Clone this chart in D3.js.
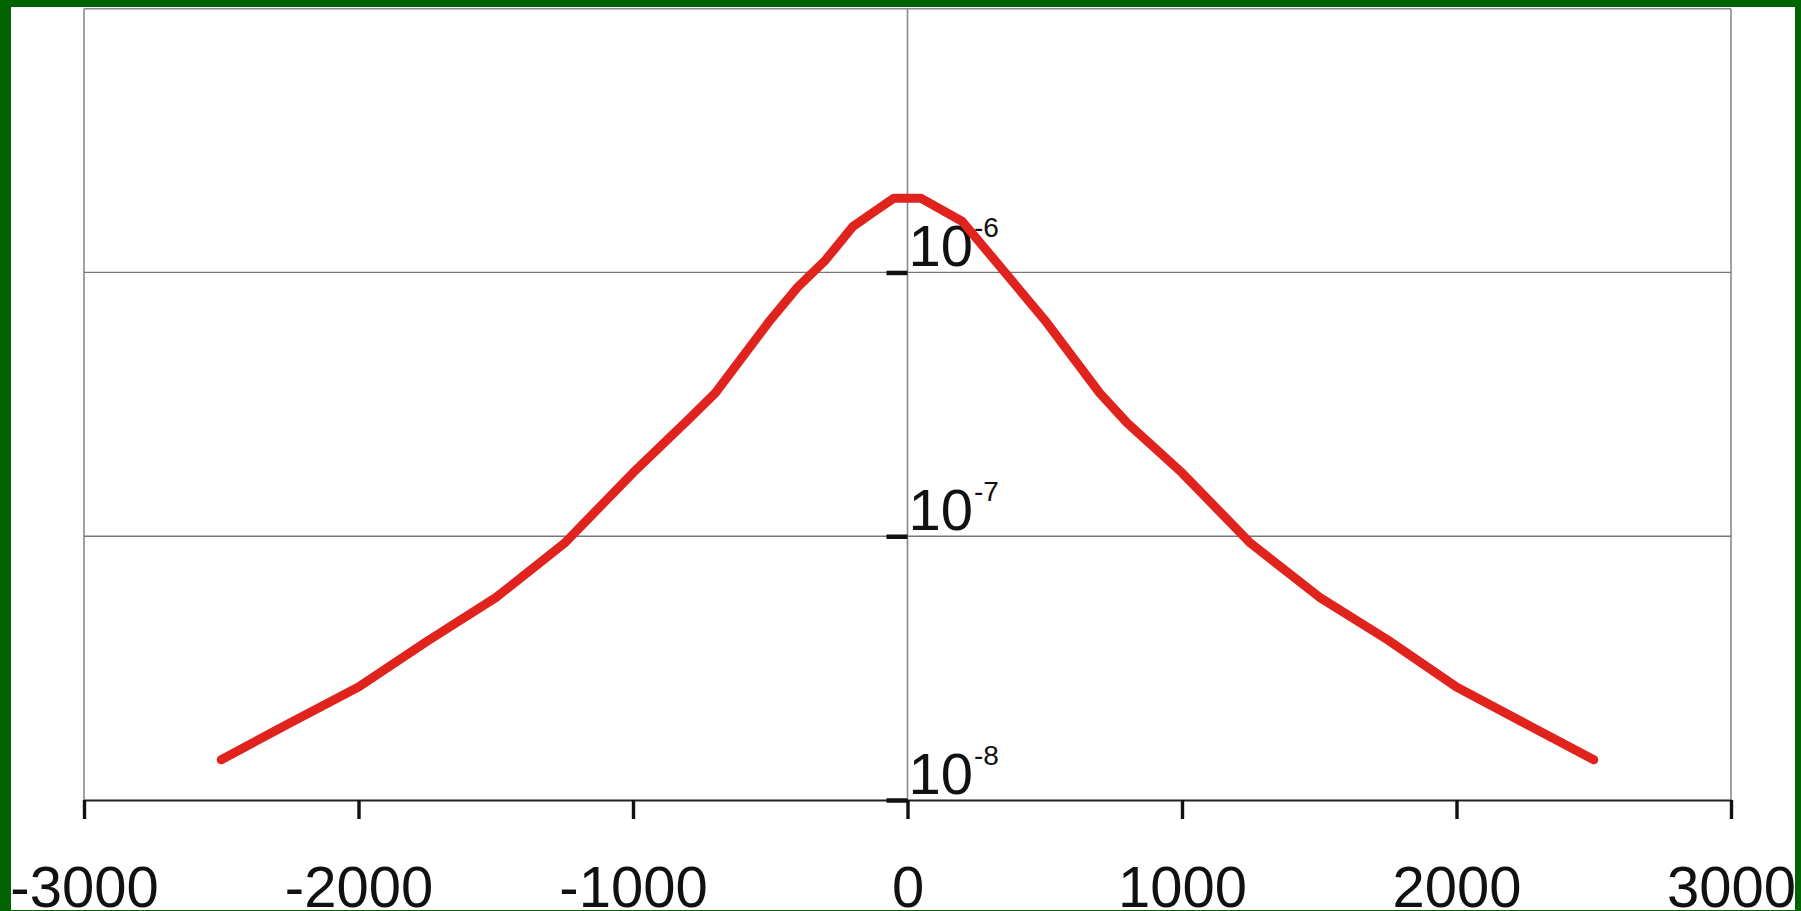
<!DOCTYPE html>
<html>
<head>
<meta charset="utf-8">
<script src="https://cdn.jsdelivr.net/npm/d3@7"></script>
<style>
  body { margin: 0; background: #fff; }
  svg { display: block; }
  text { font-family: "Liberation Sans", Arial, sans-serif; fill: #111; }
</style>
</head>
<body>
<div id="chart"></div>
<script>
// curve (x position, value on log scale)
const xVals = [-2500, -2250, -2000, -1750, -1500, -1250, -1000, -800, -700, -600, -500, -400, -300, -200, -125, -50,
  50, 200, 500, 600, 700, 800, 1000, 1250, 1500, 1750, 2000, 2250, 2500];
const yVals = [1.42e-8, 1.96e-8, 2.68e-8, 4.0e-8, 5.85e-8, 9.4e-8, 1.74e-7, 2.76e-7, 3.49e-7, 4.8e-7, 6.6e-7, 8.8e-7, 1.11e-6, 1.49e-6, 1.69e-6, 1.91e-6,
  1.91e-6, 1.56e-6, 6.6e-7, 4.8e-7, 3.49e-7, 2.69e-7, 1.74e-7, 9.4e-8, 5.88e-8, 4.04e-8, 2.68e-8, 1.95e-8, 1.42e-8];

const xTicks = [-3000, -2000, -1000, 0, 1000, 2000, 3000];
const yTicks = [1e-8, 1e-7, 1e-6];
const yExponents = ["-8", "-7", "-6"];
const gridValues = [1e-7, 1e-6];

const W = 1801, H = 911;
const margin = { top: 8.7, right: 70, bottom: 111, left: 84 };

const svg = d3.select("#chart")
  .append("svg")
  .attr("width", W)
  .attr("height", H);

svg.append("rect").attr("width", W).attr("height", H).attr("fill", "#fff");

const x = d3.scaleLinear()
  .domain([-3000, 3000])
  .range([margin.left, W - margin.right]);

const y = d3.scaleLog()
  .domain([1e-8, 1e-5])
  .range([H - margin.bottom, margin.top]);

// frame: top, left, right and the zero line
svg.append("g")
  .selectAll("line")
  .data([
    [-3000, 1e-5, 3000, 1e-5],
    [-3000, 1e-5, -3000, 1e-8],
    [3000, 1e-5, 3000, 1e-8],
    [0, 1e-5, 0, 1e-8]
  ])
  .join("line")
  .attr("x1", d => x(d[0]))
  .attr("y1", d => y(d[1]))
  .attr("x2", d => x(d[2]))
  .attr("y2", d => y(d[3]))
  .attr("stroke", "#8a8a8a")
  .attr("stroke-width", 1.6);

// horizontal grid
svg.append("g")
  .selectAll("line")
  .data(gridValues)
  .join("line")
  .attr("x1", x(-3000))
  .attr("x2", x(3000))
  .attr("y1", d => y(d))
  .attr("y2", d => y(d))
  .attr("stroke", "#777")
  .attr("stroke-width", 1.3);

// x axis
const xAxis = svg.append("g")
  .attr("transform", `translate(0,${y(1e-8)})`)
  .call(d3.axisBottom(x).tickValues(xTicks).tickSize(19).tickSizeOuter(0).tickFormat(d => d));
xAxis.select(".domain").attr("stroke", "#222").attr("stroke-width", 2.2);
xAxis.selectAll(".tick line").attr("stroke", "#111").attr("stroke-width", 3.4);
xAxis.selectAll(".tick text")
  .attr("y", 107)
  .attr("dy", 0)
  .attr("font-size", 58)
  .attr("font-family", "Liberation Sans, Arial, sans-serif")
  .attr("fill", "#111");

// y axis sits on the zero line
const yAxis = svg.append("g")
  .attr("transform", `translate(${x(0)},0)`)
  .call(d3.axisLeft(y).tickValues(yTicks).tickSize(21).tickFormat(""));
yAxis.select(".domain").remove();
yAxis.selectAll(".tick line").attr("stroke", "#111").attr("stroke-width", 4.5);

const labels = svg.append("g")
  .selectAll("text")
  .data(yTicks)
  .join("text")
  .attr("x", x(0) + 1)
  .attr("y", d => y(d) - 6);
labels.append("tspan")
  .attr("font-size", 58)
  .text("10");
labels.append("tspan")
  .attr("font-size", 28)
  .attr("dy", -29)
  .attr("dx", 1)
  .text((d, i) => yExponents[i]);

// the curve
const pts = xVals.map((v, i) => [v, yVals[i]]);
svg.append("path")
  .datum(pts)
  .attr("fill", "none")
  .attr("stroke", "#e0231d")
  .attr("stroke-width", 9)
  .attr("stroke-linejoin", "round")
  .attr("stroke-linecap", "round")
  .attr("d", d3.line()
    .x(d => x(d[0]))
    .y(d => y(d[1]))
  );

// green border around the picture
svg.append("path")
  .attr("fill", "#006400")
  .attr("fill-rule", "evenodd")
  .attr("d", `M0,0H${W}V${H}H0Z M11,7V910H1795V7Z`);
</script>
</body>
</html>
